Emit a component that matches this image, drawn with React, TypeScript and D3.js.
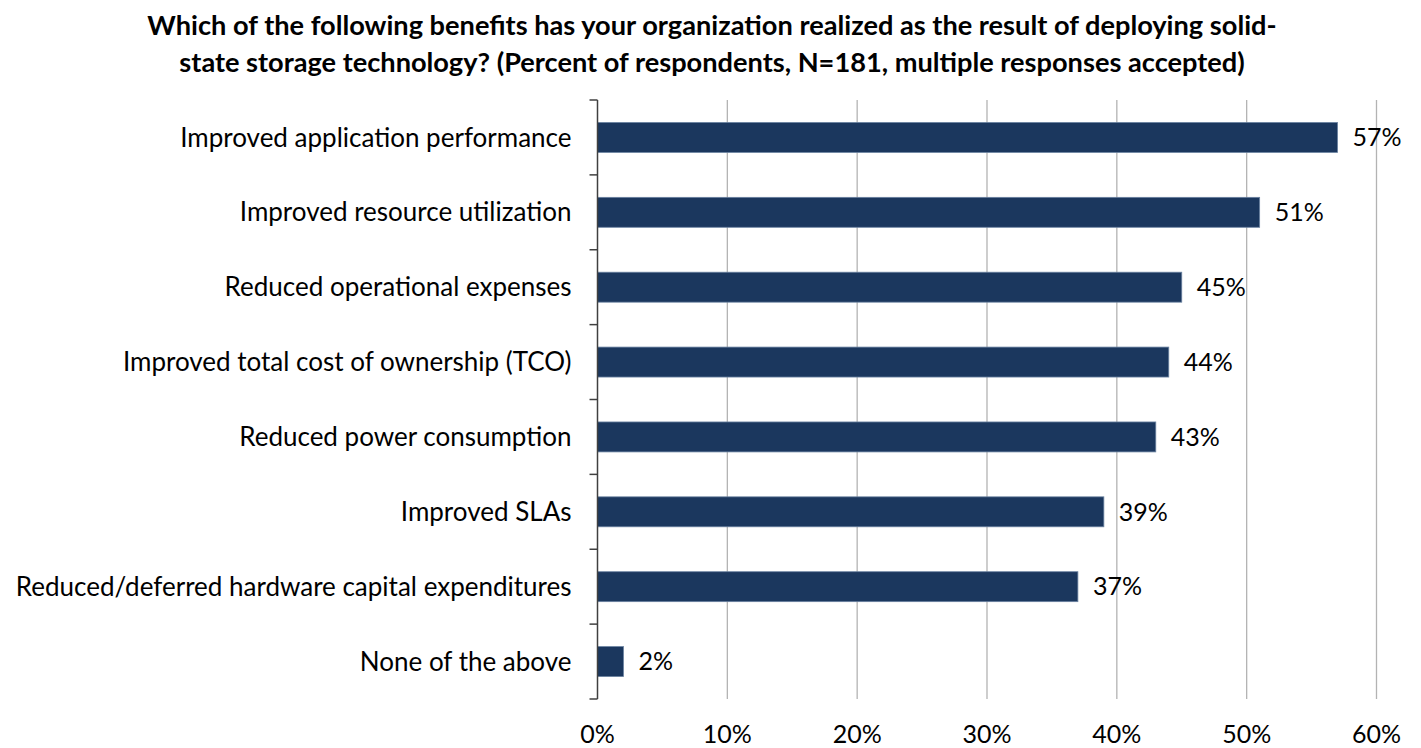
import * as d3 from 'd3';

const categories = [
  'Improved application performance',
  'Improved resource utilization',
  'Reduced operational expenses',
  'Improved total cost of ownership (TCO)',
  'Reduced power consumption',
  'Improved SLAs',
  'Reduced/deferred hardware capital expenditures',
  'None of the above',
];
const values = [57, 51, 45, 44, 43, 39, 37, 2];
const xTicks = [0, 10, 20, 30, 40, 50, 60];
const titleLines = [
  'Which of the following benefits has your organization realized as the result of deploying solid-',
  'state storage technology? (Percent of respondents, N=181, multiple responses accepted)',
];

const WIDTH = 1421;
const HEIGHT = 748;
const MARGIN = { top: 100, right: 44.5, bottom: 49, left: 597.5 };
const FONT = 'Lato, "Open Sans", sans-serif';

export default function App() {
  const boundsWidth = WIDTH - MARGIN.left - MARGIN.right;
  const boundsHeight = HEIGHT - MARGIN.top - MARGIN.bottom;

  const xScale = d3.scaleLinear().domain([0, 60]).range([0, boundsWidth]);
  const yScale = d3
    .scaleBand<string>()
    .domain(categories)
    .range([0, boundsHeight])
    .paddingInner(0.6)
    .paddingOuter(0.3);

  const step = yScale.step();
  const yEdges = d3.range(categories.length + 1).map((i) => i * step);

  return (
    <svg
      width={WIDTH}
      height={HEIGHT}
      style={{ position: 'absolute', left: 0, top: 0, display: 'block', background: '#fff' }}
    >
      {titleLines.map((line, i) => (
        <text
          key={i}
          x={712}
          y={35 + i * 37}
          textAnchor="middle"
          fontFamily={FONT}
          fontWeight="bold"
          fontSize={27.2}
          fill="#000"
        >
          {line}
        </text>
      ))}
      <g transform={`translate(${MARGIN.left},${MARGIN.top})`}>
        {/* gridlines */}
        {xTicks.slice(1).map((t) => (
          <line
            key={t}
            x1={xScale(t)}
            x2={xScale(t)}
            y1={0}
            y2={boundsHeight}
            stroke="#b3b3b3"
            strokeWidth={1.3}
          />
        ))}
        {/* bars */}
        {categories.map((c, i) => (
          <rect
            key={c}
            x={xScale(0)}
            y={yScale(c)}
            width={xScale(values[i]) - xScale(0)}
            height={yScale.bandwidth()}
            fill="#1b375e"
            stroke="#6a82a0"
            strokeWidth={0.8}
          />
        ))}
        {/* value labels */}
        {categories.map((c, i) => (
          <text
            key={c}
            x={xScale(values[i]) + 15}
            y={(yScale(c) ?? 0) + yScale.bandwidth() / 2}
            dy="0.35em"
            fontFamily={FONT}
            fontSize={25}
            fill="#000"
          >
            {values[i]}%
          </text>
        ))}
        {/* y axis */}
        <line x1={0} x2={0} y1={0} y2={boundsHeight} stroke="#404040" strokeWidth={1.5} />
        {yEdges.map((y, i) => (
          <line key={i} x1={-8} x2={0} y1={y} y2={y} stroke="#404040" strokeWidth={1.5} />
        ))}
        {categories.map((c) => (
          <text
            key={c}
            x={-26}
            y={(yScale(c) ?? 0) + yScale.bandwidth() / 2}
            dy="0.35em"
            textAnchor="end"
            fontFamily={FONT}
            fontSize={26}
            fill="#000"
          >
            {c}
          </text>
        ))}
        {/* x tick labels */}
        {xTicks.map((t) => (
          <text
            key={t}
            x={xScale(t)}
            y={boundsHeight + 44}
            textAnchor="middle"
            fontFamily={FONT}
            fontSize={25}
            fill="#000"
          >
            {t}%
          </text>
        ))}
      </g>
    </svg>
  );
}
